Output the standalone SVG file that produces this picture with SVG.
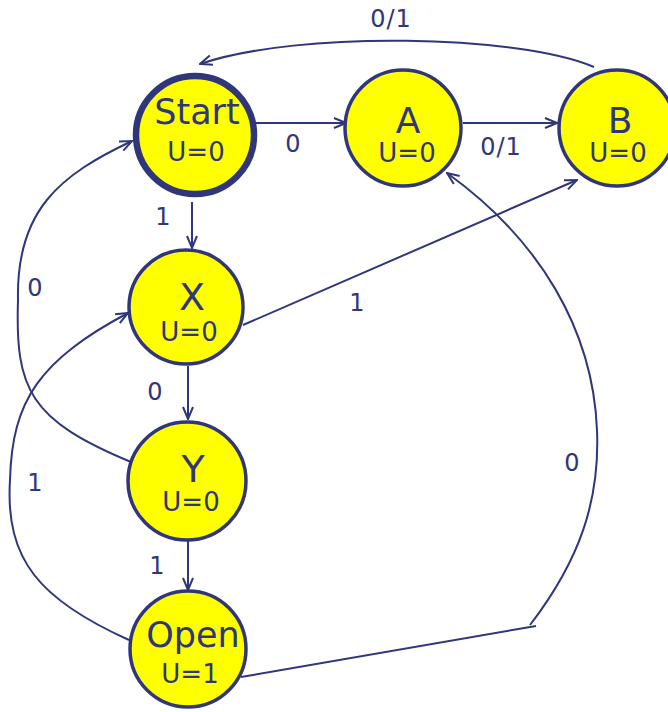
<svg xmlns="http://www.w3.org/2000/svg" width="668" height="712" viewBox="0 0 668 712">
  <style>
    .node { fill: #ffff00; stroke: #30367a; stroke-width: 3.5; }
    .start { stroke-width: 6.5; }
    .edge { fill: none; stroke: #30367a; stroke-width: 2; }
    .name { font-family: "DejaVu Sans", Verdana, sans-serif; fill: #30367a; text-anchor: middle; }
    .out { font-family: "DejaVu Sans", Verdana, sans-serif; font-size: 26px; fill: #30367a; text-anchor: middle; }
    .lbl { font-family: "DejaVu Sans", Verdana, sans-serif; font-size: 24px; fill: #30367a; text-anchor: middle; }
  </style>
  <defs>
    <marker id="arrow" viewBox="0 0 14 12" refX="13" refY="6" markerWidth="14" markerHeight="12" markerUnits="userSpaceOnUse" orient="auto">
      <path d="M1,1 L13,6 L1,11" fill="none" stroke="#30367a" stroke-width="2" stroke-linejoin="miter"/>
    </marker>
  </defs>
  <rect width="668" height="712" fill="#ffffff"/>

  <g id="connectors">
    <!-- Start -> A -->
    <path class="edge" d="M256,123 L346,123" marker-end="url(#arrow)"/>
    <text class="lbl" x="293" y="152">0</text>
    <!-- A -> B -->
    <path class="edge" d="M463,123 L557,123" marker-end="url(#arrow)"/>
    <text class="lbl" x="501" y="155" letter-spacing="1">0/1</text>
    <!-- B -> Start -->
    <path class="edge" d="M594,67 C520,35 300,30 200,64" marker-end="url(#arrow)"/>
    <text class="lbl" x="391" y="27" letter-spacing="1">0/1</text>
    <!-- Start -> X -->
    <path class="edge" d="M192,202 L192,248" marker-end="url(#arrow)"/>
    <text class="lbl" x="163" y="225">1</text>
    <!-- X -> Y -->
    <path class="edge" d="M188,366 L188,419" marker-end="url(#arrow)"/>
    <text class="lbl" x="155" y="400">0</text>
    <!-- Y -> Open -->
    <path class="edge" d="M188,541 L188,590" marker-end="url(#arrow)"/>
    <text class="lbl" x="157" y="574">1</text>
    <!-- Y -> Start -->
    <path class="edge" d="M131,462 C30,420 15,390 18,300 C16,210 60,175 132,141" marker-end="url(#arrow)"/>
    <text class="lbl" x="35" y="296">0</text>
    <!-- Open -> X -->
    <path class="edge" d="M129,640 C40,600 5,560 10,480 C12,400 40,360 128,313" marker-end="url(#arrow)"/>
    <text class="lbl" x="35" y="491">1</text>
    <!-- X -> B -->
    <path class="edge" d="M243,325 L577,180" marker-end="url(#arrow)"/>
    <text class="lbl" x="357" y="311">1</text>
    <!-- Open -> A -->
    <path class="edge" d="M241,677 L536,626"/>
    <path class="edge" d="M530,625 C580,560 600,500 597,430 C593,330 540,240 447,173" marker-end="url(#arrow)"/>
    <text class="lbl" x="572" y="471">0</text>
  </g>

  <g id="node-start">
    <circle class="node start" cx="195" cy="135" r="59"/>
    <text class="name" x="197" y="124" font-size="35">Start</text>
    <text class="out" x="196" y="161">U=0</text>
  </g>
  <g id="node-a">
    <circle class="node" cx="403" cy="128" r="58"/>
    <text class="name" x="408" y="133" font-size="36">A</text>
    <text class="out" x="407" y="162">U=0</text>
  </g>
  <g id="node-b">
    <circle class="node" cx="617" cy="128" r="58"/>
    <text class="name" x="620" y="133" font-size="36">B</text>
    <text class="out" x="618" y="162">U=0</text>
  </g>
  <g id="node-x">
    <circle class="node" cx="186" cy="307" r="57"/>
    <text class="name" x="192" y="310" font-size="38">X</text>
    <text class="out" x="189" y="341">U=0</text>
  </g>
  <g id="node-y">
    <circle class="node" cx="187" cy="481" r="59"/>
    <text class="name" x="193" y="482" font-size="38">Y</text>
    <text class="out" x="191" y="511">U=0</text>
  </g>
  <g id="node-open">
    <circle class="node" cx="188" cy="649" r="58"/>
    <text class="name" x="193" y="647" font-size="35">Open</text>
    <text class="out" x="190" y="683">U=1</text>
  </g>
</svg>
